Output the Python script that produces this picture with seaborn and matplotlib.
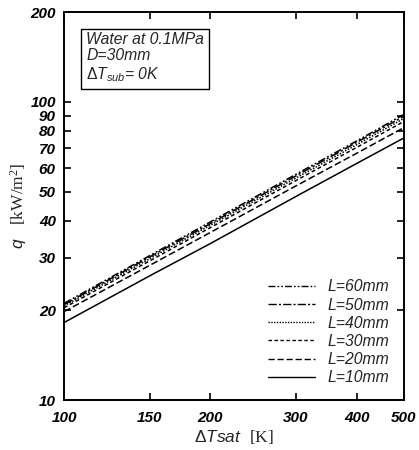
import matplotlib
matplotlib.use('Agg')
import matplotlib.pyplot as plt
from matplotlib import ticker
import pandas as pd
import seaborn as sns

# (log-log)
dTsat = [100, 150, 200, 300, 400, 500]
q_L10 = [18.2, 26.1, 33.5, 48.2, 62.2, 75.7]
q_L20 = [19.8, 28.3, 36.5, 52.3, 67.3, 82.0]
q_L30 = [20.4, 29.3, 37.9, 54.5, 70.4, 86.0]
q_L40 = [20.7, 29.8, 38.6, 55.6, 71.9, 88.0]
q_L50 = [20.9, 30.2, 39.1, 56.5, 73.2, 89.5]
q_L60 = [21.1, 30.5, 39.6, 57.2, 74.0, 90.8]

labels = ['L=60mm', 'L=50mm', 'L=40mm', 'L=30mm', 'L=20mm', 'L=10mm']
series = [q_L60, q_L50, q_L40, q_L30, q_L20, q_L10]

xticks = [100, 150, 200, 300, 400, 500]
yticks = [10, 20, 30, 40, 50, 60, 70, 80, 90, 100, 200]

rows = []
for lab, vals in zip(labels, series):
    for x, y in zip(dTsat, vals):
        rows.append({'dT': x, 'q': y, 'L': lab})
df = pd.DataFrame(rows)

sns.set_style('ticks')
plt.rcParams['font.family'] = ['Liberation Sans', 'DejaVu Sans']
plt.rcParams['mathtext.fontset'] = 'custom'
plt.rcParams['mathtext.rm'] = 'Liberation Serif'
plt.rcParams['mathtext.it'] = 'Liberation Sans:italic'
plt.rcParams['mathtext.sf'] = 'Liberation Sans'
plt.rcParams['mathtext.bf'] = 'Liberation Sans:bold'

fig = plt.figure(figsize=(4.19, 4.5), dpi=100)
ax = fig.add_axes([0.153, 0.111, 0.811, 0.862])

dashes = {
    'L=60mm': (5, 1.5, 1.2, 1.5, 1.2, 1.5),
    'L=50mm': (6, 1.5, 1.5, 1.5),
    'L=40mm': (1, 1),
    'L=30mm': (2.5, 1.8),
    'L=20mm': (4.5, 2),
    'L=10mm': '',
}
sns.lineplot(data=df, x='dT', y='q', style='L', style_order=labels,
             dashes=dashes, color='black', linewidth=1.1, ax=ax)

ax.set_xscale('log')
ax.set_yscale('log')
ax.set_xlim(100, 500)
ax.set_ylim(10, 200)
ax.xaxis.set_major_locator(ticker.FixedLocator(xticks))
ax.xaxis.set_minor_locator(ticker.NullLocator())
ax.yaxis.set_major_locator(ticker.FixedLocator(yticks))
ax.yaxis.set_minor_locator(ticker.NullLocator())
ax.set_xticklabels([str(t) for t in xticks])
ax.set_yticklabels([str(t) for t in yticks])
ax.tick_params(direction='in', length=5, width=1.2, top=True, right=True,
               labelsize=11, colors='black')
ax.tick_params(axis='x', pad=8)
ax.tick_params(axis='y', pad=6)
for lab in ax.get_xticklabels() + ax.get_yticklabels():
    lab.set_fontstyle('italic')
    lab.set_fontweight('bold')
for sp in ax.spines.values():
    sp.set_linewidth(1.4)
    sp.set_color('black')

ax.set_xlabel(r'$\mathsf{\Delta}\mathit{Tsat}\ \ \mathrm{[K]}$', fontsize=12.5, labelpad=2)
ax.set_ylabel(r'$\mathit{q}\ \ \ \mathrm{[kW/m^2]}$', fontsize=12.5, labelpad=1)

leg = ax.legend(loc='lower right', frameon=False, handlelength=3.0,
                fontsize=11.3, labelspacing=0.2, borderaxespad=0.55,
                handletextpad=0.8)
for t in leg.get_texts():
    t.set_fontstyle('italic')
for h in leg.get_lines():
    h.set_color('black')
    h.set_linewidth(1.0)

ax.text(0.065, 0.95, 'Water at 0.1MPa\nD=30mm\n' + r'$\mathsf{\Delta}\mathit{T_{sub}}$= 0K',
        transform=ax.transAxes, ha='left', va='top', fontsize=11.3,
        fontstyle='italic', linespacing=1.15,
        bbox=dict(boxstyle='square,pad=0.3', facecolor='white',
                  edgecolor='black', linewidth=1.0))

fig.savefig('out.png', dpi=100)
